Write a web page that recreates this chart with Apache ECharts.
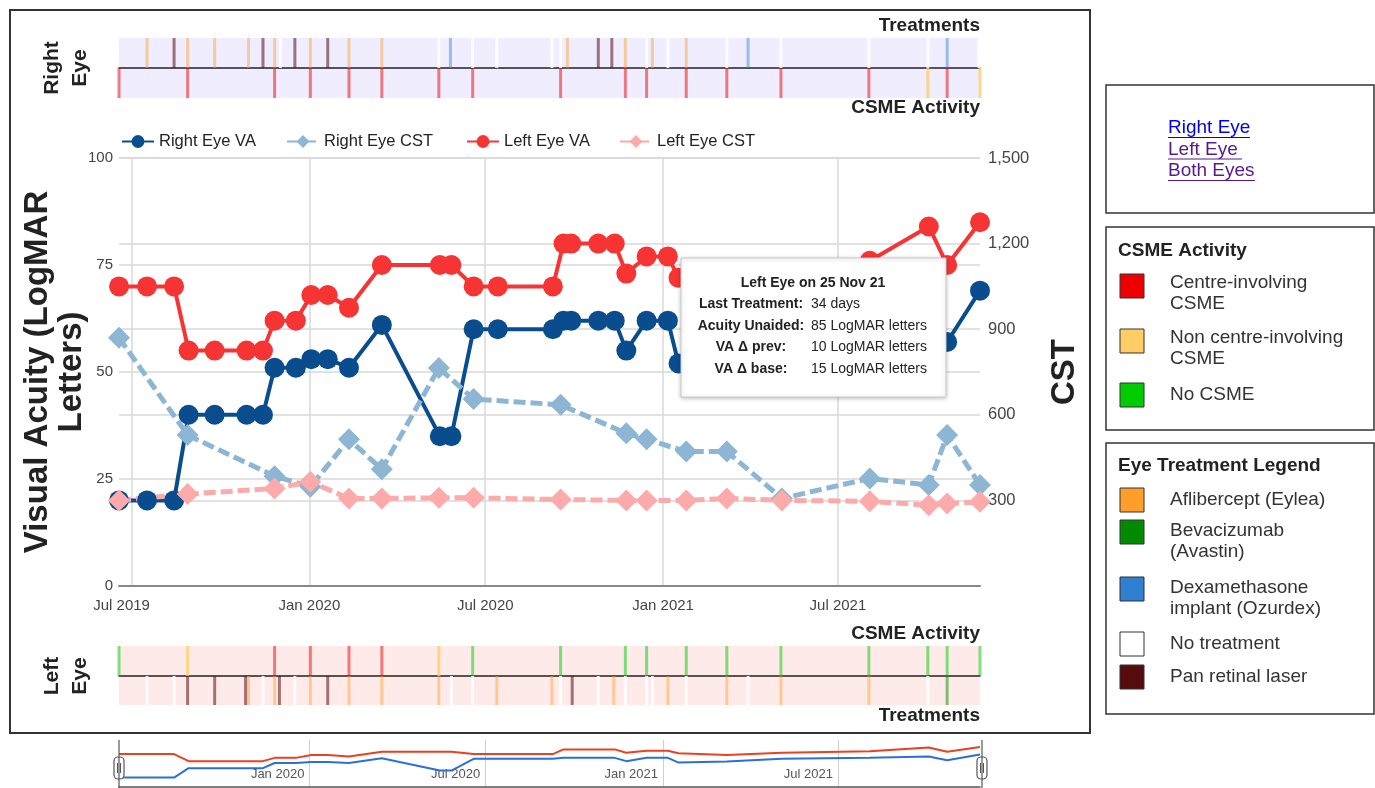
<!DOCTYPE html>
<html><head><meta charset="utf-8">
<script src="https://cdn.jsdelivr.net/npm/echarts@6/dist/echarts.min.js"></script>
<style>html,body{margin:0;padding:0;background:#fff;overflow:hidden}#c{width:1375px;height:788px;}</style>
</head><body><div id="c"></div>
<script>
const FONT = '"Liberation Sans", Arial, Helvetica, sans-serif';
const MONTHS = ['Jan','Feb','Mar','Apr','May','Jun','Jul','Aug','Sep','Oct','Nov','Dec'];

// ---- Visual acuity visits ----
const vaDates = ['2019-06-18','2019-07-17','2019-08-14','2019-08-29','2019-09-25','2019-10-28','2019-11-14','2019-11-26','2019-12-18','2020-01-03','2020-01-20','2020-02-11','2020-03-16','2020-05-15','2020-05-27','2020-06-19','2020-07-14','2020-09-09','2020-09-20','2020-09-28','2020-10-26','2020-11-12','2020-11-24','2020-12-15','2021-01-06','2021-01-17','2021-03-08','2021-05-04','2021-08-03','2021-10-03','2021-10-22','2021-11-25'];
const rightVA = [20,20,20,40,40,40,40,51,51,53,53,51,61,35,35,60,60,60,62,62,62,62,55,62,62,52,54,60,62,65,57,69];
const leftVA  = [70,70,70,55,55,55,55,62,62,68,68,65,75,75,75,70,70,70,80,80,80,80,73,77,77,72,68,73,76,84,75,85];

// ---- CST visits ----
const cstDates = ['2019-06-18','2019-08-28','2019-11-26','2020-01-02','2020-02-11','2020-03-16','2020-05-14','2020-06-19','2020-09-17','2020-11-24','2020-12-15','2021-01-25','2021-03-08','2021-05-04','2021-08-03','2021-10-03','2021-10-22','2021-11-25'];
const rightCST = [870,529,385,348,514,409,764,655,635,535,514,471,471,307,377,354,529,354];
const leftCST  = [300,322,342,365,307,307,309,309,303,300,300,300,307,300,297,283,289,295];

// ---- Right eye events ----
const rightTreatDates = ['2019-07-17','2019-08-14','2019-08-28','2019-09-25','2019-10-30','2019-11-14','2019-11-26','2019-12-02','2019-12-17','2020-01-02','2020-01-20','2020-02-11','2020-03-16','2020-05-14','2020-05-26','2020-06-18','2020-07-13','2020-09-08','2020-09-17','2020-09-24','2020-10-26','2020-11-09','2020-11-23','2020-12-15','2020-12-21','2021-01-06','2021-01-25','2021-03-08','2021-03-30','2021-05-03','2021-08-02','2021-10-02','2021-10-22','2021-11-24'];
const rightTreatTypes = ['Afl','PRL','Afl','Afl','Afl','PRL','Afl','None','PRL','Afl','PRL','Afl','Afl','None','Dex','None','None','None','None','Afl','PRL','PRL','Afl','None','Afl','None','Afl','None','Dex','None','None','None','Dex','None'];
const rightCsmeDates = ['2019-06-18','2019-08-28','2019-11-26','2020-01-02','2020-02-11','2020-03-16','2020-05-14','2020-06-18','2020-09-17','2020-11-23','2020-12-15','2021-01-25','2021-03-08','2021-05-03','2021-08-02','2021-10-02','2021-10-22','2021-11-25'];
const rightCsmeTypes = ['CI','CI','CI','CI','CI','CI','CI','CI','CI','CI','CI','CI','CI','CI','CI','NCI','CI','NCI'];

// ---- Left eye events ----
const leftCsmeDates = rightCsmeDates;
const leftCsmeTypes = ['No','NCI','CI','CI','CI','CI','NCI','No','No','No','No','No','No','No','No','No','No','No'];
const leftTreatDates = ['2019-07-17','2019-08-14','2019-08-28','2019-09-25','2019-10-27','2019-10-30','2019-11-14','2019-11-26','2019-12-01','2019-12-17','2020-01-02','2020-01-20','2020-02-11','2020-03-16','2020-05-14','2020-05-27','2020-06-18','2020-07-13','2020-09-08','2020-09-17','2020-09-29','2020-10-26','2020-11-11','2020-11-23','2020-12-15','2020-12-21','2021-01-06','2021-01-25','2021-03-08','2021-03-30','2021-05-03','2021-08-02','2021-10-02','2021-10-22'];
const leftTreatTypes = ['None','None','PRL','PRL','PRL','Afl','None','Afl','PRL','None','Afl','PRL','Afl','Afl','Afl','None','None','Afl','Afl','None','PRL','None','Afl','None','None','None','Afl','None','Afl','None','Afl','Afl','None','Bev'];

// ---- Axis ticks ----
const mainTickDates = ['2019-07-01','2020-01-01','2020-07-01','2021-01-01','2021-07-01'];
const navTickDates  = ['2020-01-01','2020-07-01','2021-01-01','2021-07-01'];

// ---- Legend panels ----
const seriesNames = ['Right Eye VA','Right Eye CST','Left Eye VA','Left Eye CST'];
const csmeLegendKeys = ['CI','NCI','No'];
const csmeLegendLabels = ['Centre-involving\nCSME','Non centre-involving\nCSME','No CSME'];
const treatLegendKeys = ['Afl','Bev','Dex','None','PRL'];
const treatLegendLabels = ['Aflibercept (Eylea)','Bevacizumab\n(Avastin)','Dexamethasone\nimplant (Ozurdex)','No treatment','Pan retinal laser'];
const eyeLinks = ['Right Eye','Left Eye','Both Eyes'];

const COLORS = {CI:'#ee0000', NCI:'#ffcc66', No:'#00cc00', Afl:'#ff9f2a', Bev:'#008a00', Dex:'#2f80d0', None:'#ffffff', PRL:'#560c0c'};
const STRIP_OPACITY = {CI:0.5, NCI:0.75, No:0.5, Afl:0.45, Bev:0.5, Dex:0.45, None:0.85, PRL:0.55};

const toTs = s => { const p = s.split('-'); return +new Date(+p[0], +p[1]-1, +p[2]); };
const xMin = toTs('2019-06-18'), xMax = toTs('2021-11-25');
const fmtDate = v => { const d = new Date(v); return MONTHS[d.getMonth()] + ' ' + d.getFullYear(); };
const mainFirstTick = toTs(mainTickDates[0]);
const fmtMain = v => Math.abs(v - mainFirstTick) < 864e5 ? '{first|' + fmtDate(v) + '}' : fmtDate(v);

function events(dates, types){
  return dates.map((d,i)=>({value:[toTs(d),1], itemStyle:{color:COLORS[types[i]], opacity:STRIP_OPACITY[types[i]]}}));
}
function pairs(dates, vals){ return dates.map((d,i)=>[toTs(d), vals[i]]); }

const L = 119, R = 395;
const grids = [
  {left:L, right:R, top:158, bottom:202},
  {left:L, right:R, top:38, height:30, show:true, backgroundColor:'#efedff', borderWidth:0},
  {left:L, right:R, top:68, height:30, show:true, backgroundColor:'#efedff', borderWidth:0},
  {left:L, right:R, top:646, height:30, show:true, backgroundColor:'#ffeaea', borderWidth:0},
  {left:L, right:R, top:676, height:29, show:true, backgroundColor:'#ffeaea', borderWidth:0},
  {left:L, right:R, top:740, height:47}
];
function stripX(i, line){
  return {type:'value', gridIndex:i, min:xMin, max:xMax, axisLabel:{show:false}, axisTick:{show:false}, splitLine:{show:false},
    axisLine:{show:line, onZero:false, lineStyle:{color:'#222', width:1.5}}};
}
function stripY(i){ return {type:'value', gridIndex:i, min:0, max:1, show:false}; }
function stripBars(i, data){
  return {type:'bar', xAxisIndex:i, yAxisIndex:i+1, data, barWidth:3, clip:true, silent:true};
}
const legendLefts = [121, 286, 466, 619];
const legends = seriesNames.map((n,i)=>({
  data:[n], left:legendLefts[i], top:133, padding:0, itemWidth:32, itemHeight:16, itemGap:0,
  textStyle:{fontSize:16.5, color:'#222', fontFamily:FONT}
}));

const option = {
  animation:false,
  textStyle:{fontFamily:FONT},
  grid: grids,
  legend: legends,
  xAxis:[
    {type:'value', gridIndex:0, min:xMin, max:xMax,
     axisLine:{onZero:false, lineStyle:{color:'#888', width:2}},
     axisTick:{show:false, customValues:mainTickDates.map(toTs)},
     axisLabel:{formatter:fmtMain, customValues:mainTickDates.map(toTs), fontSize:15, color:'#444', margin:12, fontFamily:FONT,
       rich:{first:{fontSize:15, color:'#444', fontFamily:FONT, padding:[0,20,0,0]}}},
     splitLine:{show:true, lineStyle:{color:'#d9d9d9', width:1.5}}},
    stripX(1,true), stripX(2,false), stripX(3,true), stripX(4,false),
    {type:'value', gridIndex:5, min:xMin, max:xMax,
     axisLine:{onZero:false, lineStyle:{color:'#555', width:1.5}},
     axisTick:{show:false, customValues:navTickDates.map(toTs)},
     axisLabel:{formatter:fmtDate, customValues:navTickDates.map(toTs), inside:true, align:'right', fontSize:13, color:'#555', margin:6, padding:[0,5,0,0], fontFamily:FONT},
     splitLine:{show:true, lineStyle:{color:'#d0d0d0'}}}
  ],
  yAxis:[
    {type:'value', gridIndex:0, min:0, max:100, interval:25,
     name:'Visual Acuity (LogMAR\nLetters)', nameLocation:'middle', nameRotate:90, nameGap:30, nameMoveOverlap:false,
     nameTextStyle:{fontSize:33, fontWeight:'bold', color:'#222', lineHeight:34, fontFamily:FONT},
     axisLine:{show:false}, axisTick:{show:false},
     axisLabel:{fontSize:15, color:'#444', margin:6, fontFamily:FONT},
     splitLine:{lineStyle:{color:'#d9d9d9', width:1.5}}},
    {type:'value', gridIndex:0, min:0, max:1500, interval:300, position:'right',
     name:'CST', nameLocation:'middle', nameRotate:90, nameGap:68, nameMoveOverlap:false,
     nameTextStyle:{fontSize:33, fontWeight:'bold', color:'#222', fontFamily:FONT},
     axisLine:{show:false}, axisTick:{show:false},
     axisLabel:{fontSize:16.5, color:'#444', margin:8, showMinLabel:false, formatter:v=>v.toLocaleString('en-US'), fontFamily:FONT},
     splitLine:{lineStyle:{color:'#d9d9d9', width:1.5}}},
    stripY(1), stripY(2), stripY(3), stripY(4),
    {type:'value', gridIndex:5, min:0, max:100, show:false}
  ],
  series:[
    {name:seriesNames[0], type:'line', xAxisIndex:0, yAxisIndex:0, data:pairs(vaDates,rightVA),
     symbol:'circle', symbolSize:20, color:'#0a4d8f', lineStyle:{width:4}},
    {name:seriesNames[1], type:'line', xAxisIndex:0, yAxisIndex:1, data:pairs(cstDates,rightCST),
     symbol:'diamond', symbolSize:22, color:'#8db6d4', lineStyle:{width:5, type:[12,5]}},
    {name:seriesNames[2], type:'line', xAxisIndex:0, yAxisIndex:0, data:pairs(vaDates,leftVA),
     symbol:'circle', symbolSize:20, color:'#f73434', lineStyle:{width:4}},
    {name:seriesNames[3], type:'line', xAxisIndex:0, yAxisIndex:1, data:pairs(cstDates,leftCST),
     symbol:'diamond', symbolSize:22, color:'#fcaaaa', lineStyle:{width:5, type:[12,5]}},
    stripBars(1, events(rightTreatDates, rightTreatTypes)),
    stripBars(2, events(rightCsmeDates, rightCsmeTypes)),
    stripBars(3, events(leftCsmeDates, leftCsmeTypes)),
    stripBars(4, events(leftTreatDates, leftTreatTypes)),
    {type:'line', xAxisIndex:5, yAxisIndex:6, data:pairs(vaDates,leftVA), symbol:'none', color:'#e8421f', lineStyle:{width:2}, silent:true},
    {type:'line', xAxisIndex:5, yAxisIndex:6, data:pairs(vaDates,rightVA), symbol:'none', color:'#2d6fd8', lineStyle:{width:2}, silent:true}
  ],
  graphic: buildGraphic()
};

function txt(x, y, text, o){
  o = o || {};
  return {type:'text', x, y, rotation:o.rot||0, z:100, silent:true,
    style:{text, fill:o.fill||'#222', fontSize:o.size||16, fontWeight:o.bold?'bold':'normal', fontFamily:FONT,
      align:o.align||'left', verticalAlign:o.va||'middle', lineHeight:o.lh||20}};
}
function rect(x,y,w,h,fill,stroke,lw,r){
  return {type:'rect', z:90, silent:true, shape:{x,y,width:w,height:h,r:r||0}, style:{fill:fill, stroke:stroke, lineWidth:lw||1}};
}
function buildGraphic(){
  const g = [];
  g.push(rect(10,10,1080,723,'none','#333',2));
  g.push(txt(980,26,'Treatments',{bold:true,size:19,align:'right'}));
  g.push(txt(980,108,'CSME Activity',{bold:true,size:19,align:'right'}));
  g.push(txt(980,634,'CSME Activity',{bold:true,size:19,align:'right'}));
  g.push(txt(980,716,'Treatments',{bold:true,size:19,align:'right'}));
  g.push(txt(66,68,'Right\nEye',{bold:true,size:21,align:'center',rot:Math.PI/2,lh:28}));
  g.push(txt(66,676,'Left\nEye',{bold:true,size:21,align:'center',rot:Math.PI/2,lh:28}));
  // tooltip
  g.push({type:'rect', z:95, silent:true, shape:{x:681,y:258,width:265,height:139},
    style:{fill:'#fff', stroke:'#cccccc', lineWidth:1, shadowBlur:4, shadowColor:'rgba(0,0,0,0.25)', shadowOffsetY:1}});
  g.push(txt(813,283,'Left Eye on 25 Nov 21',{bold:true,size:14,align:'center'}));
  const tl = ['Last Treatment:','Acuity Unaided:','VA \u0394 prev:','VA \u0394 base:'];
  const tv = ['34 days','85 LogMAR letters','10 LogMAR letters','15 LogMAR letters'];
  const ty = [304,326,347,369];
  tl.forEach((t,i)=>{ g.push(txt(751,ty[i],t,{bold:true,size:14,align:'center'})); g.push(txt(811,ty[i],tv[i],{size:14})); });
  // right panels
  g.push(rect(1106,85,268,128,'#fff','#333',1.5));
  g.push(rect(1106,227,268,203,'#fff','#333',1.5));
  g.push(rect(1106,443,268,271,'#fff','#333',1.5));
  const linkCol = ['#0000ee','#551a8b','#551a8b'];
  const linkW = [82,74,87];
  eyeLinks.forEach((t,i)=>{
    const y = 128 + i*21.5;
    g.push(txt(1168,y,t,{fill:linkCol[i],size:19}));
    g.push({type:'line', z:100, silent:true, shape:{x1:1168,y1:y+9.5,x2:1168+linkW[i],y2:y+9.5}, style:{stroke:linkCol[i], lineWidth:1}});
  });
  g.push(txt(1118,251,'CSME Activity',{bold:true,size:19}));
  const csmeY = [274,329,383];
  csmeLegendKeys.forEach((k,i)=>{
    g.push(rect(1120,csmeY[i],24,24,COLORS[k],'#333',1));
    const multi = csmeLegendLabels[i].indexOf('\n')>=0;
    g.push(txt(1170, multi?csmeY[i]-1:csmeY[i]+12, csmeLegendLabels[i], {size:19, fill:'#333', va:multi?'top':'middle', lh:20.5}));
  });
  g.push(txt(1118,466,'Eye Treatment Legend',{bold:true,size:19}));
  const trY = [488,520,577,632,665];
  treatLegendKeys.forEach((k,i)=>{
    g.push(rect(1120,trY[i],24,24,COLORS[k],'#333',1));
    const multi = treatLegendLabels[i].indexOf('\n')>=0;
    g.push(txt(1170, multi?trY[i]+1:trY[i]+12, treatLegendLabels[i], {size:19, fill:'#333', va:multi?'top':'middle', lh:20.5}));
  });
  // navigator handles
  [119,982].forEach(x=>{
    g.push({type:'line', z:100, silent:true, shape:{x1:x,y1:740,x2:x,y2:788}, style:{stroke:'#555', lineWidth:1.2}});
    g.push(rect(x-5,757,10,22,'#fff','#555',1.2,4));
    g.push({type:'line', z:101, silent:true, shape:{x1:x-1.5,y1:763,x2:x-1.5,y2:773}, style:{stroke:'#555', lineWidth:1}});
    g.push({type:'line', z:101, silent:true, shape:{x1:x+1.5,y1:763,x2:x+1.5,y2:773}, style:{stroke:'#555', lineWidth:1}});
  });
  return g;
}

const chart = echarts.init(document.getElementById('c'), null, {renderer:'canvas'});
chart.setOption(option);
</script>
</body></html>
